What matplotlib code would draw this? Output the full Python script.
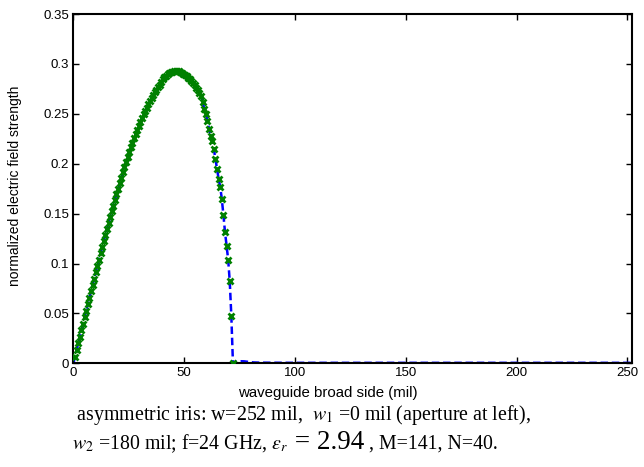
import numpy as np
import matplotlib
matplotlib.use("Agg")
import matplotlib.pyplot as plt
from matplotlib.offsetbox import TextArea, HPacker, VPacker, AnchoredOffsetbox

plt.rcParams['font.family'] = ['Liberation Sans', 'DejaVu Sans']
plt.rcParams['mathtext.fontset'] = 'stix'

# sample points across the aperture (mil), spacing 0.72 mil
step = 0.72
E_aperture = [
    0.0067, 0.0133, 0.0200, 0.0266, 0.0332, 0.0397, 0.0462, 0.0527, 0.0592, 0.0657,
    0.0721, 0.0785, 0.0849, 0.0912, 0.0975, 0.1038, 0.1101, 0.1163, 0.1224, 0.1285,
    0.1346, 0.1405, 0.1464, 0.1523, 0.1580, 0.1638, 0.1694, 0.1750, 0.1805, 0.1860,
    0.1914, 0.1967, 0.2019, 0.2069, 0.2118, 0.2165, 0.2211, 0.2256, 0.2299, 0.2341,
    0.2382, 0.2421, 0.2458, 0.2495, 0.2530, 0.2563, 0.2595, 0.2626, 0.2656, 0.2686,
    0.2714, 0.2742, 0.2768, 0.2793, 0.2822, 0.2845, 0.2864, 0.2880, 0.2894, 0.2906,
    0.2916, 0.2923, 0.2928, 0.2930, 0.2929, 0.2926, 0.2921, 0.2913, 0.2903, 0.2891,
    0.2877, 0.2861, 0.2844, 0.2826, 0.2806, 0.2784, 0.2760, 0.2735, 0.2709, 0.2680,
    0.2620, 0.2550, 0.2500, 0.2430, 0.2350, 0.2280, 0.2230, 0.2150, 0.2050, 0.1950,
    0.1850, 0.1770, 0.1650, 0.1490, 0.1320, 0.1180, 0.1040, 0.0820, 0.0470, 0.0,
]
x_aperture = step * np.arange(1, len(E_aperture) + 1)

# field on the metal part of the iris (residual from mode truncation)
x_metal = [72.72, 74.16, 75.6, 77.04, 78.48, 79.92, 81.36, 84.0, 90.0, 100.0,
           120.0, 150.0, 200.0, 252.0]
E_metal = [0.0012, 0.0018, 0.0021, 0.0020, 0.0016, 0.0012, 0.0009, 0.0007,
           0.0006, 0.0005, 0.0005, 0.0005, 0.0005, 0.0005]

x_full = np.concatenate([[0.0], x_aperture, x_metal])
E_full = np.concatenate([[0.0], E_aperture, E_metal])

xticks = [0, 50, 100, 150, 200, 250]
yticks = [0, 0.05, 0.1, 0.15, 0.2, 0.25, 0.3, 0.35]

fig = plt.figure(figsize=(6.44, 4.67), dpi=100)
ax = fig.add_axes([0.114, 0.222, 0.867, 0.748])

ax.plot(x_full, E_full, color='#0000ff', lw=1.8, dashes=[3.0, 1.5], zorder=2)
ax.plot(x_aperture, E_aperture, ls='none', marker='x', ms=4.8, mew=2.0,
        color='#008000', zorder=3)

ax.set_xlim(0, 252)
ax.set_ylim(0, 0.35)
ax.set_xticks(xticks)
ax.set_yticks(yticks)
ax.set_xticklabels([str(v) for v in xticks])
ax.set_yticklabels(['0', '0.05', '0.1', '0.15', '0.2', '0.25', '0.3', '0.35'])
ax.tick_params(direction='in', length=4, width=1, top=True, right=True,
               labelsize=9.5, pad=3)
for s in ax.spines.values():
    s.set_linewidth(1.5)

ax.set_xlabel('waveguide broad side (mil)', fontsize=10.8)
ax.xaxis.set_label_coords(0.456, -0.066)
ax.set_ylabel('normalized electric field strength', fontsize=10)
ax.yaxis.set_label_coords(-0.092, 0.507)

# caption under the axes
serif = dict(family=['Liberation Serif', 'DejaVu Serif'], size=14.3, color='black')
big = dict(family=['Liberation Serif', 'DejaVu Serif'], size=19.5, color='black')
line1 = TextArea(r' asymmetric iris: w=252 mil,  $w_1$ =0 mil (aperture at left),',
                 textprops=serif)
line2 = HPacker(children=[
    TextArea(r'$w_2$ =180 mil; f=24 GHz, $\varepsilon_r$', textprops=serif),
    TextArea(r' = 2.94', textprops=big),
    TextArea(r' , M=141, N=40.', textprops=serif),
], align='baseline', pad=0, sep=0)
caption = VPacker(children=[line1, line2], align='left', pad=0, sep=2)
box = AnchoredOffsetbox(loc='upper left', child=caption, pad=0, borderpad=0,
                        frameon=False, bbox_to_anchor=(72 / 644, 1 - 403 / 467),
                        bbox_transform=fig.transFigure)
fig.add_artist(box)

fig.savefig('out.png', dpi=100)
